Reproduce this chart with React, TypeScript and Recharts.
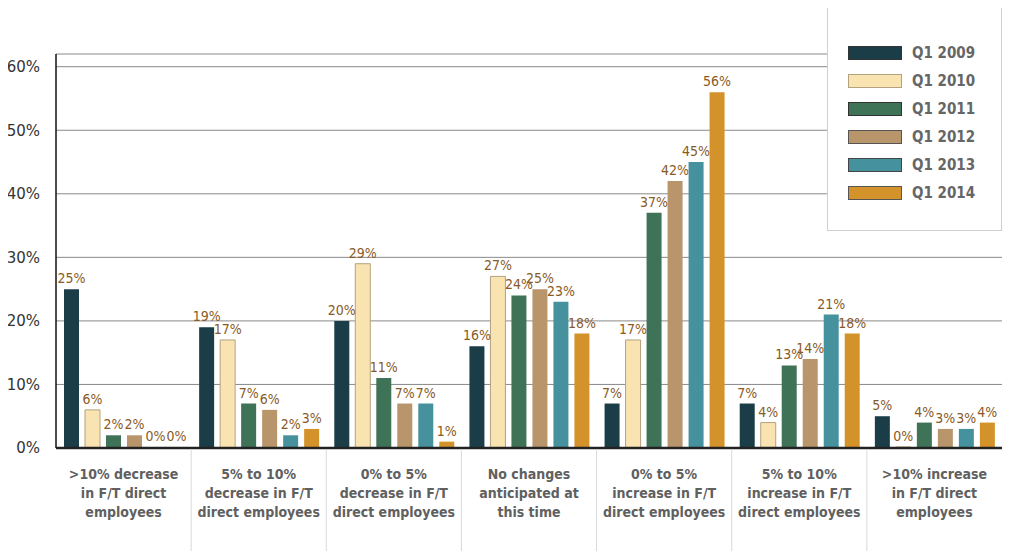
import { BarChart, Bar, XAxis, YAxis, CartesianGrid, Legend, LabelList } from 'recharts';

// categories (tick labels, \n = line break)
const categories = [
  '>10% decrease\nin F/T direct\nemployees',
  '5% to 10%\ndecrease in F/T\ndirect employees',
  '0% to 5%\ndecrease in F/T\ndirect employees',
  'No changes\nanticipated at\nthis time',
  '0% to 5%\nincrease in F/T\ndirect employees',
  '5% to 10%\nincrease in F/T\ndirect employees',
  '>10% increase\nin F/T direct\nemployees',
];

const q2009 = [25, 19, 20, 16, 7, 7, 5];
const q2010 = [6, 17, 29, 27, 17, 4, 0];
const q2011 = [2, 7, 11, 24, 37, 13, 4];
const q2012 = [2, 6, 7, 25, 42, 14, 3];
const q2013 = [0, 2, 7, 23, 45, 21, 3];
const q2014 = [0, 3, 1, 18, 56, 18, 4];

const yTicks = [0, 10, 20, 30, 40, 50, 60];

const series = [
  { key: 'Q1 2009', values: q2009, fill: '#1b3d47', stroke: 'none', border: '#333' },
  { key: 'Q1 2010', values: q2010, fill: '#f9e3b0', stroke: '#b3a27f', border: '#b3a27f' },
  { key: 'Q1 2011', values: q2011, fill: '#3f7357', stroke: 'none', border: '#333' },
  { key: 'Q1 2012', values: q2012, fill: '#b8956a', stroke: 'none', border: '#555' },
  { key: 'Q1 2013', values: q2013, fill: '#46919e', stroke: 'none', border: '#444' },
  { key: 'Q1 2014', values: q2014, fill: '#d4922a', stroke: 'none', border: '#555' },
];

const data = categories.map((name, i) => {
  const row: Record<string, string | number> = { name };
  series.forEach((s) => {
    row[s.key] = s.values[i];
  });
  return row;
});

const W = 1015;
const H = 559;
const PLOT_LEFT = 56;
const PLOT_RIGHT = 1002;
const AXIS_Y = 448;
const BAND = (PLOT_RIGHT - PLOT_LEFT) / categories.length;
const condensed = '"DejaVu Sans Condensed", "DejaVu Sans", sans-serif';

function CatTick(props: any) {
  const { x, payload, index } = props;
  const lines = String(payload.value).split('\n');
  return (
    <g>
      {index > 0 && (
        <line x1={x - BAND / 2} x2={x - BAND / 2} y1={AXIS_Y + 1} y2={H} stroke='#d9d9d9' strokeWidth={1} />
      )}
      <text
        x={x}
        y={479}
        textAnchor='middle'
        fill='#606060'
        fontFamily={condensed}
        fontWeight='bold'
        fontSize={14}
      >
        {lines.map((l, i) => (
          <tspan key={i} x={x} dy={i === 0 ? 0 : 19}>
            {l}
          </tspan>
        ))}
      </text>
    </g>
  );
}

function LegendBox() {
  return (
    <div
      style={{
        width: 175,
        height: 226,
        background: '#fff',
        border: '1px solid #cfcfcf',
        boxSizing: 'border-box',
        paddingTop: 33,
      }}
    >
      {series.map((s) => (
        <div key={s.key} style={{ display: 'flex', alignItems: 'center', height: 28, paddingLeft: 20 }}>
          <div
            style={{
              width: 54,
              height: 14,
              background: s.fill,
              border: `1px solid ${s.border}`,
              boxSizing: 'border-box',
            }}
          />
          <span
            style={{
              marginLeft: 10,
              fontFamily: condensed,
              fontWeight: 'bold',
              fontSize: 15,
              color: '#666',
            }}
          >
            {s.key}
          </span>
        </div>
      ))}
    </div>
  );
}

export default function App() {
  return (
    <div style={{ margin: -8, width: W, height: H, background: '#fff' }}>
      <BarChart
        width={W}
        height={H}
        data={data}
        margin={{ top: 54, right: W - PLOT_RIGHT, left: 0, bottom: 0 }}
        barCategoryGap={8}
        barGap={6}
      >
        <CartesianGrid horizontal vertical={false} stroke='#8a8a8a' strokeWidth={1} />
        <YAxis
          width={PLOT_LEFT}
          domain={[0, 62]}
          ticks={yTicks}
          allowDataOverflow
          tickFormatter={(v) => `${v}%`}
          tickLine={false}
          axisLine={{ stroke: '#111', strokeWidth: 1.5 }}
          tick={{ fill: '#333', fontSize: 15, fontFamily: '"DejaVu Sans", sans-serif' }}
          tickMargin={10}
        />
        <XAxis
          dataKey='name'
          height={H - AXIS_Y}
          interval={0}
          tickLine={false}
          axisLine={{ stroke: '#222', strokeWidth: 2.5 }}
          tick={(p: any) => <CatTick {...p} />}
        />
        <Legend
          layout='vertical'
          align='center'
          verticalAlign='middle'
          wrapperStyle={{ left: 827, top: 5, width: 175, height: 226 }}
          content={() => <LegendBox />}
        />
        {series.map((s) => (
          <Bar
            key={s.key}
            dataKey={s.key}
            fill={s.fill}
            stroke={s.stroke}
            strokeWidth={1}
            barSize={15}
            minPointSize={1}
            isAnimationActive={false}
          >
            <LabelList
              dataKey={s.key}
              position='top'
              offset={6}
              formatter={(v: any) => `${v}%`}
              fill='#8a5a26'
              fontSize={14}
              fontFamily={condensed}
            />
          </Bar>
        ))}
      </BarChart>
    </div>
  );
}
